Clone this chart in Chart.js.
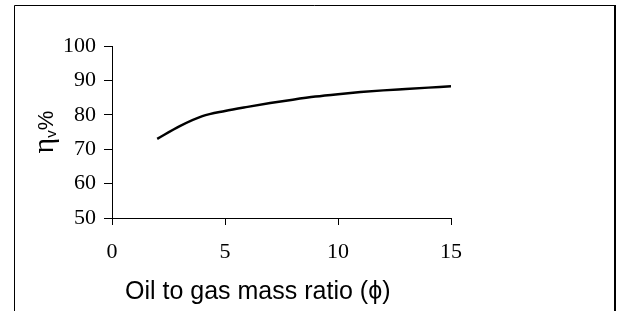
<!DOCTYPE html>
<html>
<head>
<meta charset="utf-8">
<script src="https://cdn.jsdelivr.net/npm/chart.js@4"></script>
<style>
body{margin:0;background:#fff;}
#wrap{position:relative;width:618px;height:311px;}
</style>
</head>
<body>
<div id="wrap"><canvas id="grafica" width="618" height="311"></canvas></div>
<script>
//DATOS
var razonX = [2, 3, 4, 5, 6, 7, 8, 9, 10, 11, 12, 13, 14, 15];
var eficiencia = [73, 76.7, 79.6, 81.1, 82.3, 83.4, 84.4, 85.3, 86.0, 86.6, 87.1, 87.5, 87.9, 88.3];
var ticksX = [0, 5, 10, 15];
var ticksY = [50, 60, 70, 80, 90, 100];
var tituloX = 'Oil to gas mass ratio (\u03D5)';

var puntos = razonX.map(function (x, i) { return { x: x, y: eficiencia[i] }; });

// marco exterior (sin borde inferior)
var marco = {
    id: 'marco',
    beforeDraw: function (chart) {
        var ctx = chart.ctx;
        ctx.save();
        ctx.fillStyle = '#fff';
        ctx.fillRect(0, 0, chart.width, chart.height);
        ctx.strokeStyle = '#000';
        ctx.lineWidth = 1;
        ctx.beginPath();
        ctx.moveTo(14.5, chart.height);
        ctx.lineTo(14.5, 5.5);
        ctx.lineTo(615, 5.5);
        ctx.stroke();
        ctx.lineWidth = 2;
        ctx.beginPath();
        ctx.moveTo(615, 5);
        ctx.lineTo(615, chart.height);
        ctx.stroke();
        ctx.restore();
    }
};

// titulos de los ejes (el del eje y lleva subindice)
var titulos = {
    id: 'titulos',
    afterDraw: function (chart) {
        var ctx = chart.ctx;
        var area = chart.chartArea;
        ctx.save();
        ctx.fillStyle = '#000';
        ctx.textBaseline = 'alphabetic';
        ctx.textAlign = 'left';
        ctx.font = '25px "Liberation Sans"';
        ctx.fillText(tituloX, area.left + 13, 299);

        var partes = [
            { t: '\u03B7', f: '30px "Liberation Serif"', dy: 0 },
            { t: 'v', f: '15px "Liberation Sans"', dy: 3 },
            { t: '%', f: '22px "Liberation Sans"', dy: 0 }
        ];
        var total = 0;
        partes.forEach(function (p) { ctx.font = p.f; p.w = ctx.measureText(p.t).width; total += p.w; });
        ctx.translate(53, (area.top + area.bottom) / 2);
        ctx.rotate(-Math.PI / 2);
        var x = -total / 2;
        partes.forEach(function (p) {
            ctx.font = p.f;
            ctx.fillText(p.t, x, p.dy);
            x += p.w;
        });
        ctx.restore();
    }
};

var fuenteTicks = { family: 'Liberation Serif', size: 22 };

var config = {
    type: 'line',
    data: {
        datasets: [{
            data: puntos,
            borderColor: '#000',
            borderWidth: 2.5,
            pointRadius: 0,
            fill: false,
            cubicInterpolationMode: 'monotone'
        }]
    },
    options: {
        responsive: false,
        animation: false,
        layout: { padding: { left: 0, top: 46, right: 167, bottom: 0 } },
        plugins: { legend: { display: false }, tooltip: { enabled: false } },
        scales: {
            x: {
                type: 'linear',
                min: 0,
                max: 15,
                afterBuildTicks: function (s) { s.ticks = ticksX.map(function (v) { return { value: v }; }); },
                afterFit: function (s) { s.height = 93; },
                grid: { drawOnChartArea: false, drawTicks: true, tickLength: 7, color: '#000' },
                border: { display: true, color: '#000', width: 1 },
                ticks: { font: fuenteTicks, color: '#000', padding: 14, maxRotation: 0 }
            },
            y: {
                min: 50,
                max: 100,
                afterBuildTicks: function (s) { s.ticks = ticksY.map(function (v) { return { value: v }; }); },
                afterFit: function (s) { s.width = 112; },
                grid: { drawOnChartArea: false, drawTicks: true, tickLength: 8, color: '#000' },
                border: { display: true, color: '#000', width: 1 },
                ticks: { font: fuenteTicks, color: '#000', padding: 8 }
            }
        }
    },
    plugins: [marco, titulos]
};

var grafica = new Chart(document.getElementById('grafica').getContext('2d'), config);
</script>
</body>
</html>
